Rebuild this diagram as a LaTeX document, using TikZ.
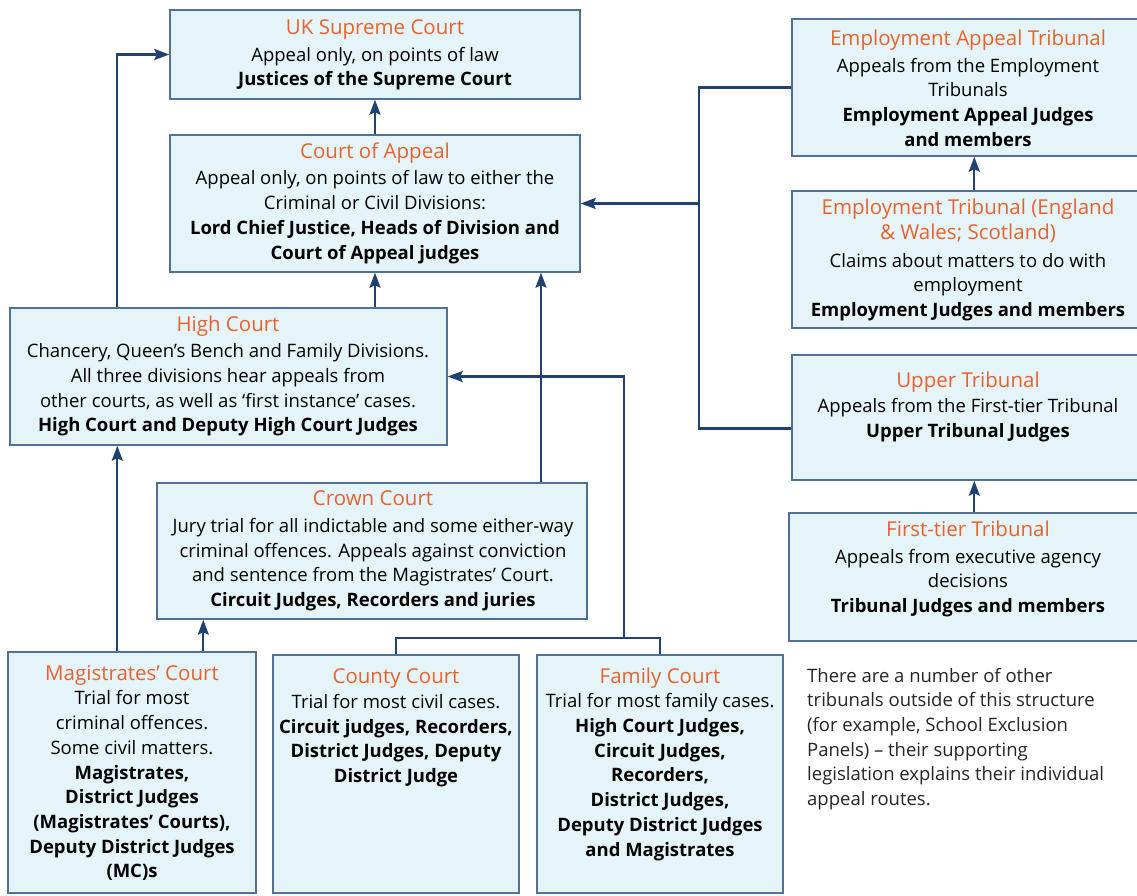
\documentclass[tikz,border=0pt]{standalone}
\usepackage{fontspec}
\setmainfont{Open Sans}
\usetikzlibrary{arrows.meta,calc}
\definecolor{boxfill}{HTML}{E5F4F8}
\definecolor{boxline}{HTML}{4F7196}
\definecolor{ttlc}{HTML}{E8622E}
\definecolor{lnc}{HTML}{1F4272}
\newcommand\ttl[1]{{\fontsize{20.5}{24.7}\selectfont\color{ttlc}#1}}
\tikzset{
  cbox/.style={draw=boxline, line width=1.4pt, fill=boxfill, inner sep=0pt},
  txt/.style={align=center, inner sep=0pt, font=\fontsize{18.5}{24.7}\selectfont, text=black},
  note/.style={align=left, inner sep=0pt, font=\fontsize{18.5}{24.7}\selectfont, text=black!85},
  ln/.style={draw=lnc, line width=2.2pt},
  arr/.style={ln, -{Stealth[length=15pt,width=11pt,inset=2.5pt]}},
}
\newcommand\boxat[5]{% name, left, top, right, bottom
  \node[cbox, minimum width={#4-#2}, minimum height={#5-#3}] (#1) at ({(#2+#4)/2},{(#3+#5)/2}) {};}
\begin{document}
\begin{tikzpicture}[x=1pt,y=-1pt]
\useasboundingbox[fill=white] (0,0) rectangle (1137,895);
% boxes
\boxat{sc}{170}{10}{580}{99}
\boxat{ca}{170}{135}{580}{272}
\boxat{hc}{10}{308}{447}{445}
\boxat{cc}{157}{483}{587}{619}
\boxat{mc}{8}{652}{256}{893}
\boxat{co}{273}{655}{519}{893}
\boxat{fc}{537}{655}{783}{893}
\boxat{eat}{792}{19}{1144}{156}
\boxat{et}{792}{191}{1144}{328}
\boxat{ut}{792}{355}{1144}{480}
\boxat{ft}{789}{513}{1144}{641}
% texts
\node[txt] (sc-t) at (375,55) {\ttl{UK Supreme Court}\\[2pt]Appeal only, on points of law\\\textbf{Justices of the Supreme Court}};
\node[txt] (ca-t) at (375,203) {\ttl{Court of Appeal}\\[2pt]Appeal only, on points of law to either the\\Criminal or Civil Divisions:\\\textbf{Lord Chief Justice, Heads of Division and}\\\textbf{Court of Appeal judges}};
\node[txt] (hc-t) at (228,376) {\ttl{High Court}\\[2pt]Chancery, Queen’s Bench and Family Divisions.\\All three divisions hear appeals from\\other courts, as well as ‘first instance’ cases.\\\textbf{High Court and Deputy High Court Judges}};
\node[txt] (cc-t) at (373,551) {\ttl{Crown Court}\\[2pt]Jury trial for all indictable and some either-way\\criminal offences. Appeals against conviction\\and sentence from the Magistrates’ Court.\\\textbf{Circuit Judges, Recorders and juries}};
\node[txt] (mc-t) at (132,773) {\ttl{Magistrates’ Court}\\Trial for most\\criminal offences.\\Some civil matters.\\\textbf{Magistrates,}\\\textbf{District Judges}\\\textbf{(Magistrates’ Courts),}\\\textbf{Deputy District Judges}\\\textbf{(MC)s}};
\node[txt] (co-t) at (396,728) {\ttl{County Court}\\Trial for most civil cases.\\\textbf{Circuit judges, Recorders,}\\\textbf{District Judges, Deputy}\\\textbf{District Judge}};
\node[txt] (fc-t) at (660,764) {\ttl{Family Court}\\Trial for most family cases.\\\textbf{High Court Judges,}\\\textbf{Circuit Judges,}\\\textbf{Recorders,}\\\textbf{District Judges,}\\\textbf{Deputy District Judges}\\\textbf{and Magistrates}};
\node[txt] (eat-t) at (968,88) {\ttl{Employment Appeal Tribunal}\\[2pt]Appeals from the Employment\\Tribunals\\\textbf{Employment Appeal Judges}\\\textbf{and members}};
\node[txt] (et-t) at (968,260) {\ttl{Employment Tribunal (England}\\\ttl{\& Wales; Scotland)}\\[3pt]Claims about matters to do with\\employment\\\textbf{Employment Judges and members}};
\node[txt] (ut-t) at (968,407) {\ttl{Upper Tribunal}\\Appeals from the First-tier Tribunal\\\textbf{Upper Tribunal Judges}};
\node[txt] (ft-t) at (968,569) {\ttl{First-tier Tribunal}\\[2pt]Appeals from executive agency\\decisions\\\textbf{Tribunal Judges and members}};
\node[note, anchor=west] (nt) at (807,739) {There are a number of other\\tribunals outside of this structure\\(for example, School Exclusion\\Panels) – their supporting\\legislation explains their individual\\appeal routes.};
% junction coordinates
\coordinate (j1) at (624,638);
\coordinate (j2) at (699,203.5);
\coordinate (p1) at (541,272);
% connectors
\draw[arr] (ca.north) -- (sc.south);
\draw[arr] (hc.north -| ca.south) -- (ca.south);
\draw[arr] ([xshift=108pt]hc.north west) |- (sc.west);
\draw[arr] (cc.north -| p1) -- (ca.south -| p1);
\draw[arr] ([xshift=110pt]mc.north west) -- ([xshift=108pt]hc.south west);
\draw[arr] ([xshift=196pt]mc.north west) -- ([xshift=47pt]cc.south west);
\draw[ln] (co.north) |- (j1) -| (fc.north);
\draw[arr] (j1) |- (hc.east);
\draw[ln] (eat.west) -| (j2) |- ([yshift=-11pt]ut.west);
\draw[arr] (j2) -- (ca.east);
\draw[arr] ([xshift=183pt]et.north west) -- ([xshift=183pt]eat.south west);
\draw[arr] ([xshift=186pt]ft.north west) -- ([xshift=183pt]ut.south west);
\end{tikzpicture}
\end{document}
